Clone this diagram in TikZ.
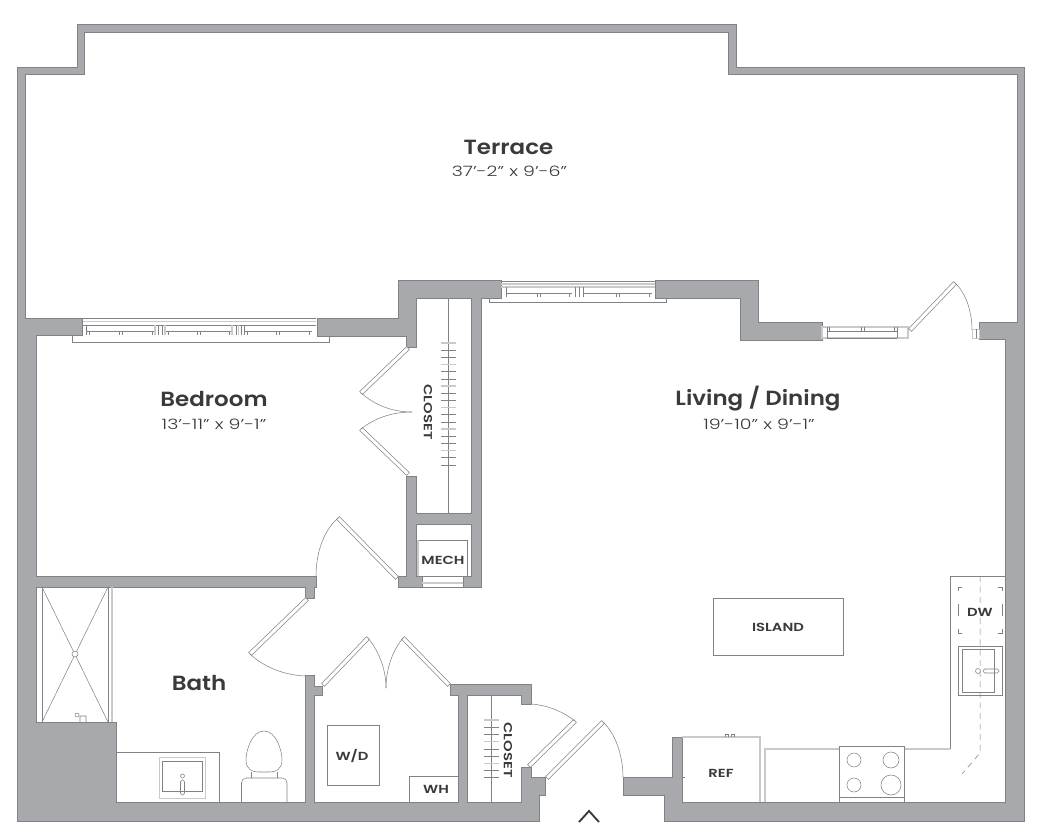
\documentclass[tikz,border=0pt]{standalone}
\usepackage{fontspec}
\newfontfamily\namefont[FakeStretch=1.12]{Poppins SemiBold}
\newfontfamily\sizefont[FakeStretch=1.33]{Poppins Light}
\newfontfamily\tagfont[FakeStretch=1.26]{Poppins SemiBold}
\usetikzlibrary{positioning,calc}
\definecolor{wallgray}{HTML}{A7A9AC}
\definecolor{edgegray}{HTML}{808285}
\definecolor{palegray}{HTML}{C8CACC}
\definecolor{inkgray}{HTML}{3A3A3C}
\tikzset{
	wall/.style={fill=wallgray, draw=edgegray, line width=0.4pt, line join=miter},
	fixture/.style={draw=edgegray, line width=0.45pt},
	paleline/.style={draw=palegray, line width=1pt},
	doorleaf/.style={draw=edgegray, line width=0.45pt, fill=white},
	doorswing/.style={draw=edgegray, line width=0.45pt},
	roomname/.style={font=\namefont\fontsize{17.5}{17.5}\selectfont, text=inkgray, inner sep=0pt},
	roomsize/.style={font=\sizefont\fontsize{12.2}{12.2}\selectfont, text=inkgray, inner sep=0pt},
	tag/.style={font=\tagfont\fontsize{10}{10}\selectfont, text=inkgray, inner sep=0pt},
}
\newcommand{\doorleaf}[2]{\draw[doorleaf] ($#1!1.7pt!90:#2$) -- ($#2!1.7pt!-90:#1$) -- ($#2!1.7pt!90:#1$) -- ($#1!1.7pt!-90:#2$) -- cycle;}
\begin{document}
\begin{tikzpicture}[x=0.03cm,y=-0.03cm]
	\useasboundingbox[fill=white] (0,0) rectangle (1042,839);

	% walls
	\draw[wall] (77,24) -- (736,24) -- (736,67) -- (1024,67) -- (1024,821) -- (664,821) -- (664,795) -- (623,795) -- (623,777) -- (672,777) -- (672,737) -- (682,737) -- (682,802) -- (1005,802) -- (1005,339) -- (979,339) -- (979,322) -- (1017,322) -- (1017,74) -- (728,74) -- (728,32) -- (84,32) -- (84,74) -- (25,74) -- (25,318) -- (82,318) -- (82,335) -- (36,335) -- (36,576) -- (316,576) -- (316,587) -- (314,587) -- (314,598) -- (305,598) -- (305,587) -- (36,587) -- (36,722) -- (116,722) -- (116,802) -- (305,802) -- (305,675) -- (314,675) -- (314,686) -- (322,686) -- (322,695) -- (314,695) -- (314,802) -- (458,802) -- (458,695) -- (450,695) -- (450,684) -- (531,684) -- (531,704) -- (521,704) -- (521,695) -- (467,695) -- (467,802) -- (521,802) -- (521,767) -- (531,767) -- (531,777) -- (545,777) -- (545,795) -- (539,795) -- (539,821) -- (17,821) -- (17,67) -- (77,67) -- cycle;
	\draw[wall] (398,280) -- (501,280) -- (501,298) -- (481,298) -- (481,587) -- (463,587) -- (463,576) -- (471,576) -- (471,524) -- (416,524) -- (416,576) -- (422,576) -- (422,587) -- (398,587) -- (398,576) -- (406,576) -- (406,476) -- (416,476) -- (416,513) -- (471,513) -- (471,298) -- (416,298) -- (416,347) -- (406,347) -- (406,336) -- (317,336) -- (317,318) -- (398,318) -- cycle;
	\draw[wall] (655,280) -- (758,280) -- (758,322) -- (822,322) -- (822,340) -- (740,340) -- (740,298) -- (655,298) -- cycle;

	% bedroom window
	\draw[fixture] (83,318) -- (316,318);
	\draw[paleline] (83,321.5) -- (316,321.5);
	\draw[fixture] (83,325) -- (316,325);
	\draw[fixture] (72,336) -- (72,342) -- (329,342) -- (329,336);
	\foreach \xa/\xb in {86/155, 165/232, 244/312} {
		\draw[fixture] (\xa,325) -- (\xa,335) (\xa,331) -- (\xb,331) ({\xa+3},331) -- ({\xa+3},335) ({\xb-3},331) -- ({\xb-3},335);
		\draw[fixture] ({(\xa+\xb)/2-1.5},331) -- ({(\xa+\xb)/2-1.5},335) ({(\xa+\xb)/2+1.5},331) -- ({(\xa+\xb)/2+1.5},335);
	}
	\draw[fixture] (158,325) -- (158,335) (162,325) -- (162,335) (236,325) -- (236,335) (241,325) -- (241,335);
	\draw[paleline] (155,325) -- (155,335) (165,325) -- (165,335) (232,325) -- (232,335) (238.5,325) -- (238.5,335);

	% living room window
	\draw[fixture] (501,281) -- (655,281);
	\draw[paleline] (501,284) -- (655,284);
	\draw[paleline] (501,287) -- (655,287);
	\draw[fixture] (489,298) -- (489,302) -- (666,302) -- (666,298);
	\foreach \xa/\xb in {506/572, 583/652} {
		\draw[fixture] (\xa,287) -- (\xa,297) (\xa,293) -- (\xb,293) ({\xb-3},293) -- ({\xb-3},297);
		\draw[fixture] ({(\xa+\xb)/2-1.5},293) -- ({(\xa+\xb)/2-1.5},297) ({(\xa+\xb)/2+1.5},293) -- ({(\xa+\xb)/2+1.5},297);
	}
	\draw[fixture] (575,287) -- (575,297) (579,287) -- (579,297);

	% terrace window
	\draw[paleline] (822,327) -- (908,327) -- (908,338) -- (822,338) -- cycle;
	\draw[fixture] (827,331) -- (897,331) (827,327) -- (827,338) (897,327) -- (897,338);
	\draw[fixture] (829.5,327) -- (829.5,331) (861,327) -- (861,331) (864,327) -- (864,331) (894,327) -- (894,331);
	\draw[fixture] (827,338) -- (897,338);

	% doors
	\doorleaf{(910,330)}{(955,283)}
	\draw[doorswing] (955,283) .. controls (965,292) and (972,310) .. (972,330);
	\draw[draw=palegray, line width=0.6pt] (972,329) rectangle (979,338);
	\draw[fixture] (976,329) -- (976,338);
	\doorleaf{(408,348)}{(361,393)}
	\draw[doorswing] (361,393) .. controls (375,405) and (392,412) .. (412,412);
	\doorleaf{(408,474)}{(361,429)}
	\draw[doorswing] (361,429) .. controls (375,418) and (392,412) .. (412,412);
	\doorleaf{(397,578)}{(338,518)}
	\draw[doorswing] (338,518) .. controls (322,532) and (316,556) .. (316,576);
	\doorleaf{(307,599)}{(250,654)}
	\draw[doorswing] (250,654) .. controls (265,668) and (285,675) .. (305,676);
	\doorleaf{(323,685)}{(368,638)}
	\draw[doorswing] (368,638) .. controls (378,650) and (386,668) .. (386,688);
	\doorleaf{(449,685)}{(403,638)}
	\draw[doorswing] (403,638) .. controls (393,650) and (386,668) .. (386,688);
	\doorleaf{(529,766)}{(575,721)}
	\draw[doorswing] (575,721) .. controls (562,711) and (547,705) .. (531,704);
	\doorleaf{(547,778)}{(603,722)}
	\draw[doorswing] (603,722) .. controls (615,733) and (623,755) .. (623,777);

	% closets
	\draw[fixture] (448,298) -- (448,513);
	\foreach \k in {0,...,17} {
		\pgfmathtruncatemacro{\third}{mod(\k,3)}
		\ifnum\third=0
			\draw[paleline] (441,{343+7.17*\k}) -- (456,{343+7.17*\k});
		\else
			\draw[fixture] (441,{343+7.17*\k}) -- (456,{343+7.17*\k});
		\fi
	}
	\draw[fixture] (491,695) -- (491,802);
	\foreach \k in {0,...,8} {
		\pgfmathtruncatemacro{\third}{mod(\k,3)}
		\ifnum\third=0
			\draw[paleline] (484,{720+7.2*\k}) -- (499,{720+7.2*\k});
		\else
			\draw[fixture] (484,{720+7.2*\k}) -- (499,{720+7.2*\k});
		\fi
	}

	% mech
	\draw[fixture] (418,540) -- (467,540) -- (467,576);
	\draw[paleline] (418,576) -- (418,540);
	\draw[fixture] (422,576) -- (463,576) (422,587) -- (463,587);
	\draw[paleline] (422,583) -- (463,583);

	% shower
	\draw[fixture] (42,587) -- (42,722);
	\draw[fixture] (108,587) -- (108,722);
	\draw[paleline] (112,587) -- (112,722);
	\draw[fixture] (42,587) -- (108,722) (108,587) -- (42,722);
	\draw[fixture, fill=white] (75,654) circle [radius=3];
	\draw[fixture] (77,715) circle [radius=2] (80,722) -- (80,716) -- (86,716) -- (86,722);

	% bath counter
	\draw[fixture] (116,752) -- (219.5,752) -- (219.5,802);
	\draw[draw=palegray, line width=0.7pt] (159,757) rectangle (205,798);
	\draw[fixture] (162,761) rectangle (202,791);
	\draw[fixture] (182.5,776) circle [radius=2];
	\draw[fixture, rounded corners=1.5pt] (180.5,780) rectangle (184.5,795);

	% toilet
	\draw[fixture] (264,731) .. controls (252,731) and (246,750) .. (246,760) .. controls (246,769) and (252,772) .. (258,772) -- (270,772) .. controls (276,772) and (282,769) .. (282,760) .. controls (282,750) and (276,731) .. (264,731) -- cycle;
	\draw[fixture] (251,772) -- (251,778) (277,772) -- (277,778);
	\draw[fixture, rounded corners=4pt] (241.5,802) -- (241.5,778) -- (287,778) -- (287,802);

	% laundry
	\draw[fixture] (327,725) rectangle (379,785);
	\draw[fixture] (409,802) -- (409,776) -- (458,776);

	% island
	\draw[fixture] (713,598) rectangle (843,655);

	% kitchen
	\draw[fixture] (1005,576) -- (950,576) -- (950,749);
	\draw[paleline] (950,749) -- (904,749);
	\draw[paleline] (839,749) -- (765,749) -- (765,802);
	\draw[fixture] (839,746) rectangle (904,802);
	\draw[fixture] (839,797) -- (904,797);
	\draw[fixture] (854,760) circle [radius=7];
	\draw[fixture] (891,760) circle [radius=8];
	\draw[fixture] (854,785) circle [radius=7];
	\draw[fixture] (891,785) circle [radius=10];
	\draw[paleline] (682,737) -- (760,737) -- (760,802);
	\draw[fixture] (725,737) -- (725,734) -- (728,734) -- (728,737) (731,737) -- (731,734) -- (734,734) -- (734,737);
	\draw[fixture] (682,777) -- (685,777);
	\draw[fixture] (958,591) -- (958,587) -- (962,587) (998,587) -- (1002,587) -- (1002,591);
	\draw[fixture] (958,629) -- (958,633) -- (962,633) (998,633) -- (1002,633) -- (1002,629);
	\draw[fixture] (958,604) -- (958,616) (1002,604) -- (1002,616);
	\draw[fixture] (958,646) rectangle (1002,695);
	\draw[fixture] (962,649) rectangle (994,692);
	\draw[fixture] (978,671) circle [radius=2.5];
	\draw[fixture, rounded corners=1.5pt] (983,669) rectangle (999,673);
	\draw[fixture, dash pattern=on 5pt off 4pt] (980,576) -- (980,753) -- (962,774);

	% entry mark
	\draw[draw=inkgray, line width=1.6pt] (579,822) -- (589,811) -- (599,822);

	% room labels
	\node[roomname] (terrace) at (508.5,147) {Terrace};
	\node[roomsize] (terracesize) at (509.5,171) {37’-2” x 9’-6”};
	\node[roomname] (bedroom) at (214,399) {Bedroom};
	\node[roomsize] (bedroomsize) at (214,424) {13’-11” x 9’-1”};
	\node[roomname] (living) at (758,399) {Living / Dining};
	\node[roomsize] (livingsize) at (759,424) {19’-10” x 9’-1”};
	\node[roomname] (bath) at (199,683) {Bath};

	% tags
	\node[tag, rotate=-90] (closetbig) at (428,412) {CLOSET};
	\node[tag, rotate=-90] (closetsmall) at (508,750) {CLOSET};
	\node[tag] (mech) at (443,560) {MECH};
	\node[tag] (wd) at (352,756) {W/D};
	\node[tag] (wh) at (436,789) {WH};
	\node[tag] (island) at (778,627) {ISLAND};
	\node[tag] (dw) at (980,612) {DW};
	\node[tag] (ref) at (721,773) {REF};
\end{tikzpicture}
\end{document}
